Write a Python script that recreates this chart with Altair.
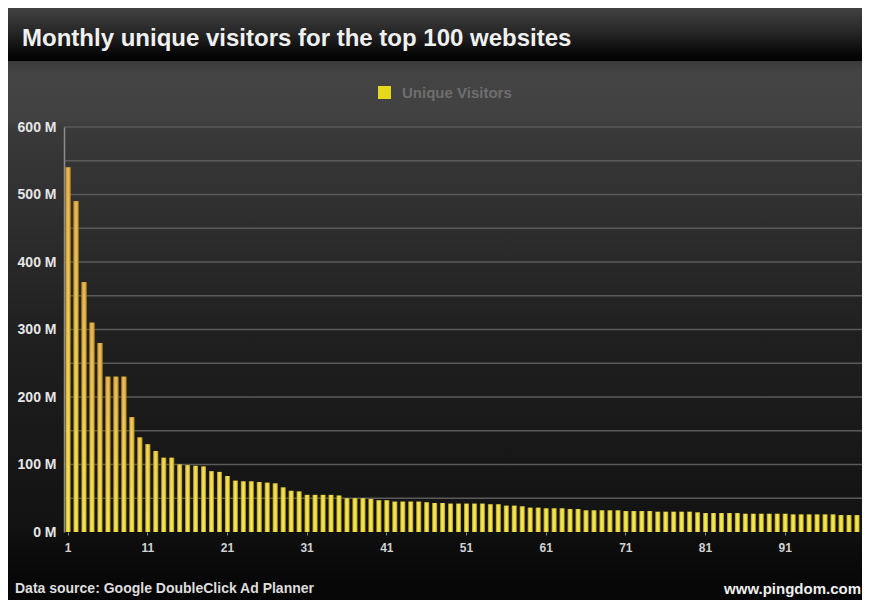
import altair as alt
import pandas as pd

# ---------------- data ----------------
ranks = list(range(1, 101))
visitors_m = [540, 490, 370, 310, 280, 230, 230, 230, 170, 140,
              130, 120, 110, 110, 100, 99, 98, 97, 90, 89,
              83, 76, 75, 75, 74, 73, 72, 66, 61, 60,
              55, 55, 55, 55, 54, 50, 50, 50, 49, 47,
              47, 45, 45, 45, 45, 44, 43, 43, 42, 42,
              42, 42, 42, 41, 41, 39, 39, 38, 36, 36,
              35, 35, 35, 34, 34, 32, 32, 32, 32, 32,
              31, 31, 31, 31, 30, 30, 30, 30, 30, 29,
              28, 28, 28, 28, 28, 27, 27, 27, 27, 27,
              27, 26, 26, 26, 26, 26, 26, 25, 25, 25]
series_name = "Unique Visitors"
y_tick_values = [0, 100, 200, 300, 400, 500, 600]
grid_values = [50, 100, 150, 200, 250, 300, 350, 400, 450, 500, 550, 600]
x_label_ranks = [1, 11, 21, 31, 41, 51, 61, 71, 81, 91]
title_text = "Monthly unique visitors for the top 100 websites"
source_text = "Data source: Google DoubleClick Ad Planner"
site_text = "www.pingdom.com"

# ---------------- layout ----------------
W, H = 797, 405
PAD_L, PAD_T, PAD_R, PAD_B = 56, 119, 1, 68
FONT = "Liberation Sans"

df = pd.DataFrame({"rank": ranks, "visitors": visitors_m,
                   "series": [series_name] * len(ranks)})
one = pd.DataFrame({"k": [0]})
grid_df = pd.DataFrame({"visitors": grid_values})


def lin(stops, x1, y1, x2, y2):
    return alt.Gradient(
        gradient="linear",
        stops=[alt.GradientStop(color=c, offset=o) for o, c in stops],
        x1=x1, y1=y1, x2=x2, y2=y2,
    )


yscale = alt.Scale(domain=[0, 600], nice=False, zero=True)
xscale = alt.Scale(paddingInner=0.38, paddingOuter=0.2)

# title band background
band_bg = alt.Chart(one).mark_rect(
    color=lin([(0, "#424242"), (0.45, "#272727"), (0.85, "#080808"), (1, "#000000")], 0, 0, 0, 1)
).encode(x=alt.value(-PAD_L), x2=alt.value(W + PAD_R),
         y=alt.value(-PAD_T), y2=alt.value(-66))

# main background
main_bg = alt.Chart(one).mark_rect(
    color=lin([(0, "#3a3a3a"), (0.02, "#444444"), (0.11, "#414141"),
               (0.13, "#393939"), (0.5, "#202020"), (0.87, "#121212"),
               (0.9, "#0c0c0c"), (1, "#050505")], 0, 0, 0, 1)
).encode(x=alt.value(-PAD_L), x2=alt.value(W + PAD_R),
         y=alt.value(-66), y2=alt.value(H + PAD_B))

grid = alt.Chart(grid_df).mark_rule(color="#5a5a5a", strokeWidth=1.5).encode(
    y=alt.Y("visitors:Q", scale=yscale),
    x=alt.value(0), x2=alt.value(W + PAD_R),
)

x_axis = alt.Axis(values=x_label_ranks, labelAngle=0, title=None, domain=False,
                  ticks=True, tickColor="#8a8a8a", tickSize=3, grid=False,
                  labelColor="#d2d2d2", labelFont=FONT, labelFontSize=12,
                  labelFontWeight="bold", labelPadding=7, zindex=1)
y_axis = alt.Axis(values=y_tick_values, labelExpr="datum.value + ' M'", title=None,
                  grid=False, ticks=False, domain=True, domainColor="#8c8c8c",
                  domainWidth=1.5, labelColor="#e6e6e6", labelFont=FONT,
                  labelFontSize=14, labelFontWeight="bold", labelPadding=8, zindex=1)

base = alt.Chart(df).mark_bar().encode(
    x=alt.X("rank:O", scale=xscale, axis=x_axis),
    y=alt.Y("visitors:Q", scale=yscale, axis=y_axis),
    color=alt.Color("series:N",
                    scale=alt.Scale(domain=[series_name], range=["#e6d81a"]),
                    legend=alt.Legend(title=None, orient="none", legendX=313, legendY=-42,
                                      direction="horizontal", symbolType="square",
                                      symbolSize=169, symbolStrokeWidth=0,
                                      labelColor="#6e6e6e", labelFont=FONT,
                                      labelFontSize=15, labelFontWeight="bold",
                                      labelOffset=10, padding=0, zindex=1)),
)

orange = alt.Chart(df).mark_bar(
    color=lin([(0, "rgba(214,138,32,0)"), (1, "rgba(214,138,32,0.95)")], 0, 1, 0, 0)
).encode(
    x=alt.X("rank:O"),
    y=alt.Y("visitors:Q"),
    opacity=alt.Opacity("visitors:Q", scale=alt.Scale(domain=[40, 250], range=[0, 1], clamp=True),
                        legend=None),
)

shine = alt.Chart(df).mark_bar(
    color=lin([(0, "rgba(110,64,0,0.7)"), (0.3, "rgba(255,248,170,0.25)"),
               (0.5, "rgba(255,255,210,0.45)"), (0.7, "rgba(255,248,170,0.25)"),
               (1, "rgba(110,64,0,0.7)")], 0, 0, 1, 0)
).encode(
    x=alt.X("rank:O"),
    y=alt.Y("visitors:Q"),
)

source = alt.Chart(one).mark_text(
    text=source_text, align="left", baseline="middle", font=FONT, fontSize=14,
    fontWeight="bold", color="#dedede"
).encode(x=alt.value(7 - PAD_L), y=alt.value(H + PAD_B - 11))

site = alt.Chart(one).mark_text(
    text=site_text, align="right", baseline="middle", font=FONT, fontSize=15,
    fontWeight="bold", color="#f0f0f0"
).encode(x=alt.value(W), y=alt.value(H + PAD_B - 11))

chart = alt.layer(band_bg, main_bg, grid, base, orange, shine, source, site).properties(
    width=W, height=H,
    padding={"left": PAD_L, "top": PAD_T, "right": PAD_R, "bottom": PAD_B},
    autosize=alt.AutoSizeParams(type="none"),
    title=alt.Title(text=title_text, anchor="start", frame="group", dx=14 - PAD_L,
                    dy=62, baseline="alphabetic",
                    font=FONT, fontSize=24, fontWeight="bold", color="#f0f0f0",
                    offset=0, zindex=1),
).configure(background="#050505").configure_view(stroke=None)

chart.save("out.html", embed_options={"renderer": "svg", "actions": False})
